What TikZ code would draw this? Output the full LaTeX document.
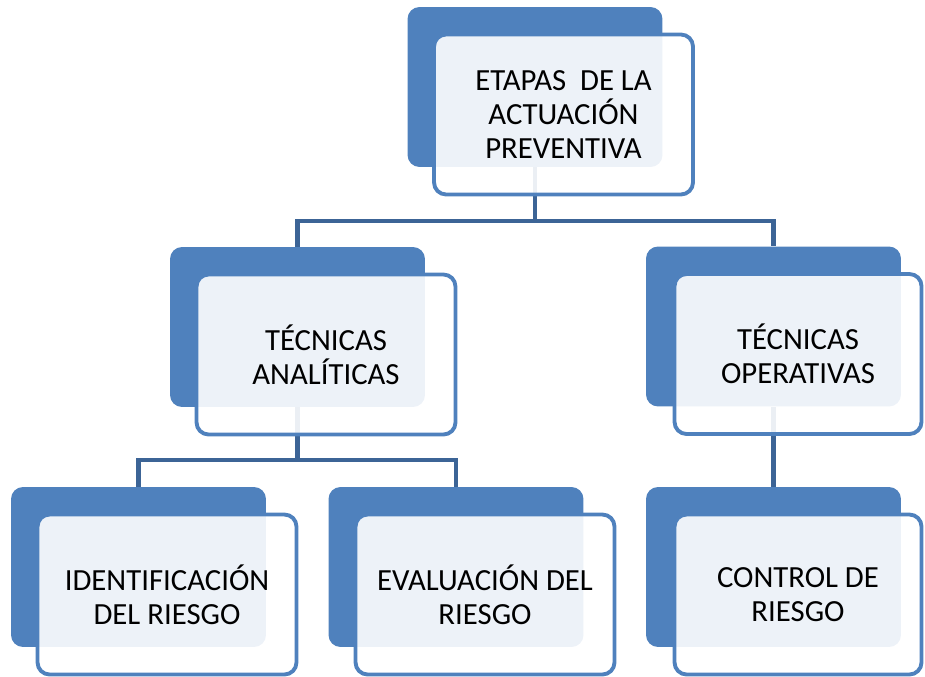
\documentclass[tikz,border=0pt]{standalone}
\usepackage{fontspec}
\setmainfont{Carlito}
\usetikzlibrary{calc}
\definecolor{officeblue}{HTML}{4F81BD}
\definecolor{linkblue}{HTML}{3C6496}

\begin{document}
\begin{tikzpicture}[x=0.02cm, y=-0.02cm,
  back/.style={fill=officeblue, rounded corners=0.24cm, minimum width=5.1cm, minimum height=3.2cm, inner sep=0pt},
  front/.style={draw=officeblue, line width=2.2pt, fill=white, fill opacity=0.9, text opacity=1, rounded corners=0.24cm,
    minimum width=5.18cm, minimum height=3.2cm, inner sep=0pt, align=center, font=\fontsize{17.5}{19.6}\selectfont},
  link/.style={draw=linkblue, line width=2.8pt}]
  \useasboundingbox (0,0) rectangle (925,676);

  % Back boxes
  \node[back] (etapasB) at (535,87) {};
  \node[back] (anaB) at (297.5,327) {};
  \node[back] (opeB) at (773.5,326.5) {};
  \node[back] (idB) at (138.5,567) {};
  \node[back] (evaB) at (456,567) {};
  \node[back] (ctrlB) at (773.5,567) {};

  % Connectors
  \coordinate (bar1) at (535,221);
  \draw[link] (etapasB.south) -- (bar1) -| (anaB.north);
  \draw[link] (bar1) -| (opeB.north);
  \coordinate (bar2) at (297.5,460);
  \draw[link] (anaB.south) -- (bar2) -| (idB.north);
  \draw[link] (bar2) -| (evaB.north);
  \draw[link] (opeB.south) -- (ctrlB.north);

  % Front boxes with text
  \node[front] (etapas) at (563.5,114.5) {ETAPAS~ DE LA\\ACTUACIÓN\\PREVENTIVA};
  \node[front] (ana) at (326,354.5) {TÉCNICAS\\ANALÍTICAS};
  \node[front, minimum width=4.94cm] (ope) at (798,354) {TÉCNICAS\\OPERATIVAS};
  \node[front] (id) at (167,594.5) {IDENTIFICACIÓN\\DEL RIESGO};
  \node[front] (eva) at (485,594.5) {EVALUACIÓN DEL\\RIESGO};
  \node[front, minimum width=4.94cm] (ctrl) at (798,594.5) {CONTROL DE\\RIESGO};
\end{tikzpicture}
\end{document}
